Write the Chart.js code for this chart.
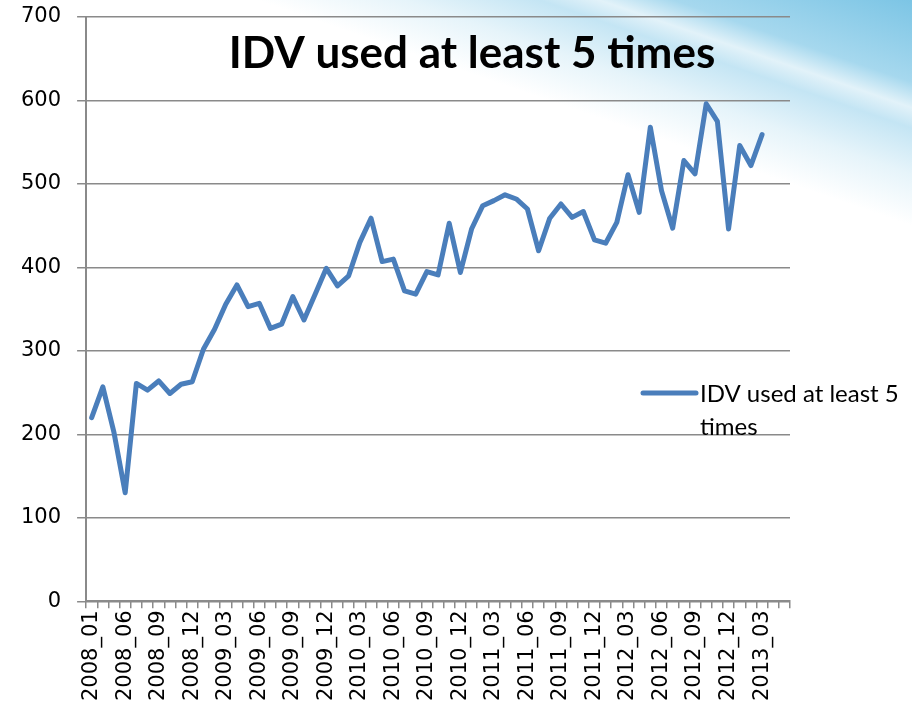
<!doctype html>
<html lang="en">
  <head>
    <script src="https://cdn.jsdelivr.net/npm/chart.js"></script>
    <style>
      html, body { margin: 0; padding: 0; }
      #wrap {
        width: 912px; height: 712px; position: relative;
        background: linear-gradient(199deg, #7cc5e5 0%, #a6d8ee 8%, #e2f2f9 10.5%, #c4e5f4 12.5%, #e6f4fa 17%, #ffffff 22%);
      }
    </style>
  </head>
  <body>
    <div id="wrap"><canvas id="myChart" width="912" height="712"></canvas></div>
    <script>
      // months on the x axis (only every 3rd one gets a label)
      const categories = [
        '2008_01', '2008_02', '2008_04', '2008_06', '2008_07', '2008_08', '2008_09', '2008_10', '2008_11', '2008_12',
        '2009_01', '2009_02', '2009_03', '2009_04', '2009_05', '2009_06', '2009_07', '2009_08', '2009_09', '2009_10',
        '2009_11', '2009_12', '2010_01', '2010_02', '2010_03', '2010_04', '2010_05', '2010_06', '2010_07', '2010_08',
        '2010_09', '2010_10', '2010_11', '2010_12', '2011_01', '2011_02', '2011_03', '2011_04', '2011_05', '2011_06',
        '2011_07', '2011_08', '2011_09', '2011_10', '2011_11', '2011_12', '2012_01', '2012_02', '2012_03', '2012_04',
        '2012_05', '2012_06', '2012_07', '2012_08', '2012_09', '2012_10', '2012_11', '2012_12', '2013_01', '2013_02',
        '2013_03', '2013_04', '2013_05'
      ];
      const idvValues = [
        220, 257, 202, 130, 261, 253, 264, 249, 260, 263,
        302, 326, 356, 379, 353, 357, 327, 332, 365, 337,
        368, 399, 378, 390, 430, 459, 407, 410, 372, 368,
        395, 391, 453, 394, 446, 474, 480, 487, 482, 470,
        420, 459, 476, 460, 467, 433, 429, 454, 511, 466,
        568, 492, 447, 528, 512, 596, 575, 446, 546, 522,
        559, null, null
      ];
      const yTicks = [0, 100, 200, 300, 400, 500, 600, 700];
      const titleText = 'IDV used at least 5 times';
      const seriesLabel = 'IDV used at least 5 times';

      const lineColor = '#4a7ebb';
      const gridColor = '#8a8a8a';

      const titlePlugin = {
        id: 'slideTitle',
        afterDraw(chart) {
          const ctx = chart.ctx;
          ctx.save();
          ctx.font = 'bold 44px Lato';
          ctx.fillStyle = '#000';
          ctx.textAlign = 'center';
          ctx.textBaseline = 'middle';
          ctx.fillText(titleText, 472, 54);
          ctx.restore();
        }
      };

      const legendPlugin = {
        id: 'sideLegend',
        afterDraw(chart) {
          const ctx = chart.ctx;
          const ds = chart.data.datasets[0];
          ctx.save();
          ctx.strokeStyle = ds.borderColor;
          ctx.lineWidth = 5;
          ctx.lineCap = 'round';
          ctx.beginPath();
          ctx.moveTo(643, 393);
          ctx.lineTo(696, 393);
          ctx.stroke();
          ctx.font = '24px Lato';
          ctx.fillStyle = '#000';
          ctx.textBaseline = 'middle';
          // wrap the label like the original
          const words = ds.label.split(' ');
          const lines = [];
          let cur = '';
          words.forEach(function (w) {
            const test = cur ? cur + ' ' + w : w;
            if (ctx.measureText(test).width > 206 && cur) {
              lines.push(cur);
              cur = w;
            } else {
              cur = test;
            }
          });
          lines.push(cur);
          lines.forEach(function (l, i) {
            ctx.fillText(l, 700, 394 + i * 33);
          });
          ctx.restore();
        }
      };

      new Chart(document.getElementById('myChart'), {
        type: 'line',
        data: {
          labels: categories,
          datasets: [{
            label: seriesLabel,
            data: idvValues,
            borderColor: lineColor,
            backgroundColor: lineColor,
            borderWidth: 5,
            borderJoinStyle: 'round',
            borderCapStyle: 'round',
            pointRadius: 0,
            tension: 0,
            spanGaps: false
          }]
        },
        options: {
          responsive: false,
          animation: false,
          layout: {
            padding: { left: 5, right: 122, top: 17, bottom: 9 }
          },
          plugins: {
            legend: { display: false },
            title: { display: false },
            tooltip: { enabled: false }
          },
          scales: {
            x: {
              offset: true,
              grid: {
                display: true,
                drawOnChartArea: false,
                offset: true,
                tickLength: 7,
                color: gridColor,
                lineWidth: 1.5
              },
              border: { color: gridColor, width: 2 },
              ticks: {
                autoSkip: false,
                maxRotation: 90,
                minRotation: 90,
                padding: 2,
                color: '#000',
                font: { family: 'DejaVu Sans', size: 21 },
                callback: function (value, index) {
                  return index % 3 === 0 ? categories[index] : '';
                }
              }
            },
            y: {
              min: 0,
              max: 700,
              afterBuildTicks: function (axis) {
                axis.ticks = yTicks.map(function (v) { return { value: v }; });
              },
              afterFit: function (axis) {
                axis.paddingTop = 0;
                axis.paddingBottom = 0;
              },
              grid: {
                color: gridColor,
                lineWidth: 1.5,
                tickLength: 9
              },
              border: { color: gridColor, width: 2 },
              ticks: {
                padding: 16,
                color: '#000',
                font: { family: 'DejaVu Sans', size: 21 }
              }
            }
          }
        },
        plugins: [titlePlugin, legendPlugin]
      });
    </script>
  </body>
</html>
